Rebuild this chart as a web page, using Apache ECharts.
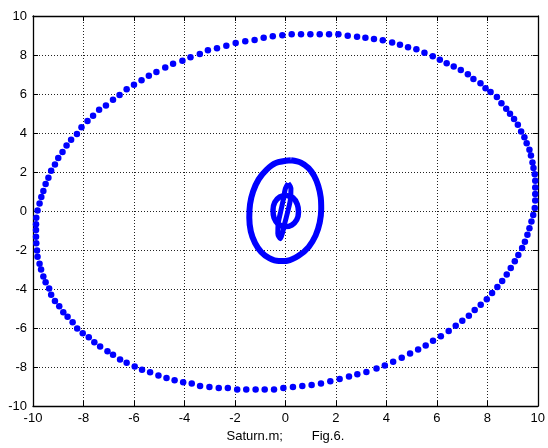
<!DOCTYPE html>
<html>
<head>
<meta charset="utf-8">
<script src="https://cdn.jsdelivr.net/npm/echarts@6/dist/echarts.min.js"></script>
<style>
  html, body { margin: 0; padding: 0; background: #fff; }
  #main { width: 548px; height: 448px; }
</style>
</head>
<body>
<div id="main"></div>
<script>
  // axis range and tick labels
  var axisMin = -10, axisMax = 10, tickStep = 2;
  var xLabel = 'Saturn.m;        Fig.6.';

  // outer orbit, dots [x, y]
  var outerTop = [
    [-9.82,0.03],[-9.74,0.39],[-9.67,0.72],[-9.59,1.03],[-9.50,1.38],[-9.39,1.71],[-9.28,2.07],[-9.13,2.39],
    [-9.0,2.72],[-8.83,3.03],[-8.67,3.36],[-8.49,3.66],[-8.26,3.95],[-8.08,4.30],[-7.84,4.61],[-7.62,4.89],
    [-7.38,5.19],[-7.11,5.41],[-6.83,5.71],[-6.57,5.95],[-6.29,6.24],[-6.0,6.47],[-5.70,6.71],[-5.41,6.94],
    [-5.11,7.13],[-4.76,7.36],[-4.45,7.55],[-4.08,7.71],[-3.76,7.88],[-3.39,8.05],[-3.07,8.24],[-2.71,8.35],
    [-2.34,8.47],[-1.97,8.61],[-1.59,8.71],[-1.22,8.77],[-0.86,8.89],[-0.50,8.96],[-0.12,9.01],
    [0.25,9.06],[0.62,9.06],[0.99,9.06],[1.36,9.06],[1.73,9.06],[2.10,9.06],[2.47,8.99],[2.84,8.94],
    [3.17,8.89],[3.51,8.82],[3.86,8.76],[4.23,8.64],[4.54,8.52],[4.86,8.40],[5.19,8.29],[5.51,8.12],
    [5.84,7.93],[6.12,7.76],[6.39,7.58],[6.67,7.41],[6.95,7.23],[7.23,7.01],[7.45,6.77],[7.73,6.55],
    [7.93,6.30],[8.13,6.10],[8.38,5.85],[8.56,5.53],[8.75,5.24],[8.90,4.99],[9.06,4.72],[9.21,4.42],
    [9.34,4.08],[9.47,3.78],[9.56,3.48],[9.67,3.14],[9.73,2.84],[9.79,2.49],[9.83,2.20],[9.88,1.88],
    [9.90,1.55],[9.90,1.21],[9.90,0.87],[9.90,0.54],[9.88,0.15]
  ];
  var outerBottom = [
    [9.82,-0.20],[9.75,-0.54],[9.67,-0.88],[9.59,-1.22],[9.49,-1.58],[9.38,-1.90],[9.23,-2.25],[9.09,-2.58],
    [8.93,-2.92],[8.77,-3.25],[8.59,-3.59],[8.40,-3.90],[8.19,-4.20],[7.98,-4.53],[7.74,-4.81],[7.50,-5.08],
    [7.27,-5.37],[7.01,-5.63],[6.75,-5.88],[6.47,-6.15],[6.16,-6.42],[5.85,-6.66],[5.56,-6.90],[5.26,-7.10],
    [4.94,-7.31],[4.61,-7.53],[4.27,-7.73],[3.94,-7.92],[3.61,-8.08],[3.21,-8.25],[2.85,-8.37],[2.52,-8.49],
    [2.15,-8.61],[1.78,-8.73],[1.41,-8.85],[1.04,-8.92],[0.67,-8.98],[0.30,-9.03],
    [-0.08,-9.08],[-0.45,-9.15],[-0.82,-9.15],[-1.18,-9.15],[-1.55,-9.15],[-1.91,-9.15],[-2.28,-9.08],
    [-2.64,-9.08],[-3.01,-9.03],[-3.38,-8.97],[-3.71,-8.85],[-4.05,-8.78],[-4.39,-8.68],[-4.71,-8.56],
    [-5.03,-8.44],[-5.36,-8.27],[-5.68,-8.14],[-5.97,-7.97],[-6.29,-7.78],[-6.55,-7.61],[-6.83,-7.37],
    [-7.05,-7.19],[-7.34,-6.95],[-7.57,-6.73],[-7.79,-6.47],[-8.03,-6.27],[-8.25,-6.02],[-8.43,-5.71],
    [-8.63,-5.42],[-8.80,-5.19],[-8.96,-4.88],[-9.13,-4.61],[-9.28,-4.29],[-9.36,-3.98],[-9.50,-3.66],
    [-9.59,-3.36],[-9.68,-3.0],[-9.74,-2.71],[-9.82,-2.34],[-9.84,-2.03],[-9.87,-1.66],[-9.88,-1.32],
    [-9.88,-0.98],[-9.88,-0.68],[-9.87,-0.34]
  ];

  // inner orbits (dense dots, drawn as thick strokes)
  var innerRing = [
    [0.22,2.6],[0.62,2.48],[0.92,2.2],[1.14,1.8],[1.3,1.3],[1.4,0.7],[1.42,0.1],[1.36,-0.6],
    [1.2,-1.25],[0.92,-1.85],[0.52,-2.3],[0.08,-2.55],[-0.26,-2.57],[-0.64,-2.42],[-0.96,-2.1],
    [-1.2,-1.65],[-1.37,-1.05],[-1.43,-0.35],[-1.4,0.35],[-1.28,1.0],[-1.06,1.62],[-0.76,2.1],
    [-0.38,2.46],[0.22,2.6]
  ];
  var innerOval = [
    [0.02,0.8],[0.3,0.68],[0.47,0.35],[0.52,-0.05],[0.45,-0.45],[0.25,-0.72],[0.0,-0.8],
    [-0.28,-0.68],[-0.45,-0.35],[-0.49,0.05],[-0.42,0.45],[-0.22,0.72],[0.02,0.8]
  ];
  var innerLoop = [
    [0.11,1.42],[0.22,1.15],[0.2,0.6],[0.1,0.0],[-0.02,-0.6],[-0.12,-1.15],[-0.2,-1.42],
    [-0.3,-1.15],[-0.28,-0.6],[-0.18,0.0],[-0.08,0.6],[0.0,1.15],[0.11,1.42]
  ];

  var myChart = echarts.init(document.getElementById('main'));
  var font = 'Liberation Sans, Arial, sans-serif';
  var blue = '#0000ff';

  function makeAxis(pos, showLabel, extra) {
    var ax = {
      type: 'value',
      position: pos,
      min: axisMin,
      max: axisMax,
      interval: tickStep,
      axisLine: { show: true, onZero: false, lineStyle: { color: '#000', width: 1.3 } },
      axisTick: { show: true, inside: true, length: 5, lineStyle: { color: '#000' } },
      axisLabel: { show: showLabel, color: '#000', fontSize: 13, fontFamily: font, margin: 6 },
      splitLine: { show: showLabel, lineStyle: { color: '#222', type: [1, 2], width: 1 } }
    };
    return Object.assign(ax, extra || {});
  }

  var option = {
    animation: false,
    backgroundColor: '#fff',
    grid: { left: 33, right: 10, top: 16, bottom: 39, containLabel: false },
    xAxis: [
      makeAxis('bottom', true, {
        name: xLabel,
        nameLocation: 'middle',
        nameGap: 24,
        nameTextStyle: { color: '#000', fontSize: 13, fontFamily: font }
      }),
      makeAxis('top', false)
    ],
    yAxis: [
      makeAxis('left', true),
      makeAxis('right', false)
    ],
    series: [
      {
        type: 'scatter',
        data: outerTop.concat(outerBottom),
        symbolSize: 6.5,
        itemStyle: { color: blue, opacity: 1 },
        z: 5
      },
      {
        type: 'line',
        data: innerRing,
        smooth: 0.3,
        showSymbol: false,
        lineStyle: { color: blue, width: 6 },
        z: 5
      },
      {
        type: 'line',
        data: innerOval,
        smooth: 0.3,
        showSymbol: false,
        lineStyle: { color: blue, width: 5.5 },
        z: 5
      },
      {
        type: 'line',
        data: innerLoop,
        smooth: 0.3,
        showSymbol: false,
        lineStyle: { color: blue, width: 5 },
        z: 5
      }
    ]
  };

  myChart.setOption(option);
</script>
</body>
</html>
